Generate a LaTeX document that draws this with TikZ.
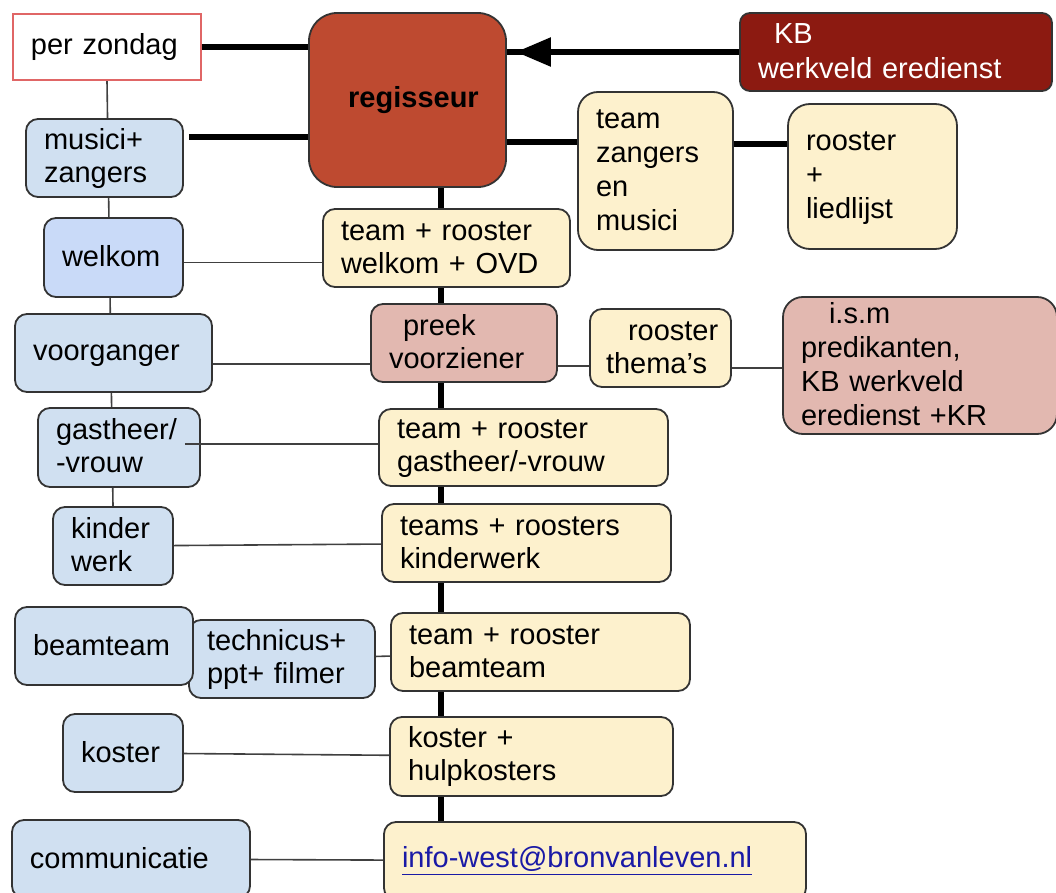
\documentclass[tikz,border=0pt]{standalone}
\usepackage{fontspec}
\setmainfont{Liberation Sans}
\usetikzlibrary{positioning,arrows.meta,backgrounds}

\definecolor{berry}{RGB}{190,74,48}
\definecolor{darkberry}{RGB}{140,26,17}
\definecolor{paleblue}{RGB}{208,224,241}
\definecolor{cornflower}{RGB}{201,218,248}
\definecolor{paleyellow}{RGB}{253,241,205}
\definecolor{palered}{RGB}{226,184,176}
\definecolor{zondagred}{RGB}{224,102,102}
\definecolor{linkblue}{RGB}{26,26,166}
\newcommand{\boxstrut}{\rule[-2pt]{0pt}{13pt}}

\begin{document}
\begin{tikzpicture}[on grid, node distance=40pt and 100pt,
	box/.style={draw=black!80, line width=0.9pt, rounded corners=6pt, inner xsep=9pt, inner ysep=0pt, align=left, minimum height=39pt, font=\fontsize{14.5pt}{16.5pt}\selectfont, execute at begin node=\boxstrut, execute at end node=\boxstrut},
	role/.style={box, fill=paleblue},
	team/.style={box, fill=paleyellow},
	preek/.style={box, fill=palered},
	heavy/.style={line width=2.7pt},
	link/.style={line width=0.8pt, black!75}]
	\useasboundingbox (0,0) rectangle (528pt,-446.5pt);

	% top row
	\node[box, fill=berry, rounded corners=14pt, minimum width=98.5pt, minimum height=87pt, align=center, font=\fontsize{14.5pt}{16.5pt}\selectfont\bfseries] (regie) at (203.75pt,-50pt) {\hspace*{6pt}regisseur};
	\node[box, fill=white, draw=zondagred, line width=0.6pt, sharp corners, minimum height=33pt, text width=76pt] (zondag) [above left=26.5pt and 150.25pt of regie] {per zondag};
	\node[box, fill=darkberry, text=white, rounded corners=5pt, text width=138pt] (kb) [above right=24pt and 244.25pt of regie] {\hspace*{8pt}KB\\[1pt]werkveld eredienst};
	\node[team, rounded corners=10pt, minimum height=79pt, text width=59.5pt, font=\fontsize{14.5pt}{17pt}\selectfont] (zangteam) [below right=35.5pt and 124pt of regie] {team\\zangers\\en\\musici};
	\node[team, rounded corners=11pt, minimum height=72.5pt, text width=66.5pt, font=\fontsize{14.5pt}{17pt}\selectfont] (liedlijst) [below right=2.75pt and 108.5pt of zangteam] {rooster\\+\\liedlijst};

	% left column
	\node[role, text width=60.5pt] (musici) [below left=55.5pt and 1.25pt of zondag] {musici+\\zangers};
	\node[role, fill=cornflower, minimum height=39.5pt, text width=51.5pt] (welkom) [below right=49.75pt and 4.5pt of musici] {welkom};
	\node[role, text width=80.5pt] (voorganger) [below=47.75pt of welkom] {voorganger};
	\node[role, minimum height=39.5pt, text width=63pt] (gastheer) [below right=47.25pt and 2.75pt of voorganger] {gastheer/\\-vrouw};
	\node[role, text width=42pt] (kinder) [below left=49.25pt and 3pt of gastheer] {kinder\\werk};
	\node[role, text width=75pt] (technicus) [below right=56.5pt and 84.5pt of kinder] {technicus+\\ppt+ filmer};
	\node[role, text width=71pt] (beamteam) [above left=6.5pt and 89pt of technicus] {beamteam};
	\node[role, text width=42pt] (koster) [below right=53.5pt and 9.5pt of beamteam] {koster};
	\node[role, text width=101pt] (communicatie) [below right=53pt and 4pt of koster] {communicatie};

	% middle column
	\node[team, text width=105.5pt] (welkomteam) [below right=74pt and 19.5pt of regie] {team + rooster\\welkom + OVD};
	\node[preek, text width=75pt] (voorziener) [below right=47.5pt and 8.75pt of welkomteam] {\hspace*{7pt}preek\\voorziener};
	\node[team, inner xsep=8pt, text width=54.5pt] (themas) [below right=2.5pt and 98.25pt of voorziener] {\hspace*{11pt}rooster\\thema’s};
	\node[preek, rounded corners=10pt, minimum height=68.5pt, text width=119pt, font=\fontsize{14.5pt}{17pt}\selectfont] (ism) [below right=8.75pt and 129.75pt of themas] {\hspace*{14pt}i.s.m\\predikanten,\\KB werkveld\\eredienst +KR};
	\node[team, minimum height=38.5pt, text width=126.5pt] (gastteam) [below right=52.25pt and 29.75pt of voorziener] {team + rooster\\gastheer/-vrouw};
	\node[team, text width=126.5pt] (kinderteam) [below right=47.75pt and 1.5pt of gastteam] {teams + roosters\\kinderwerk};
	\node[team, text width=131.5pt] (beamrooster) [below right=54.5pt and 7pt of kinderteam] {team + rooster\\beamteam};
	\node[team, minimum height=39.5pt, text width=123.5pt] (hulpkosters) [below left=52.25pt and 4.5pt of beamrooster] {koster +\\hulpkosters};
	\node[team, text width=193pt] (mail) [below right=52.25pt and 31.75pt of hulpkosters] {\textcolor{linkblue}{\underline{info-west@bronvanleven.nl}}};

	% spine and left chain
	\coordinate (spine) at ([xshift=16.75pt]regie.south);
	\begin{scope}[on background layer]
		\draw[heavy] (spine) -- (spine |- mail.north);
		\draw[link] (zondag.south) -- (kinder.north);
	\end{scope}

	\path (zondag.east) edge[heavy] (zondag.east -| regie.west);
	\path ([shift={(2.5pt,10.5pt)}]musici.east) edge[heavy] ([yshift=10.5pt]musici.east -| regie.west);
	\path ([yshift=-21pt]regie.east) edge[heavy] ([yshift=-21pt]regie.east -| zangteam.west);
	\path ([yshift=13.5pt]zangteam.east) edge[heavy] ([yshift=13.5pt]zangteam.east -| liedlijst.west);
	\path (kb.west) edge[heavy] (kb.west -| regie.east);
	\path (kb.west) edge[heavy, -{Triangle[length=17.5pt,width=14pt]}, shorten >=4.5pt] (kb.west -| regie.east);

	\path ([yshift=-2.5pt]welkom.east) edge[link] ([yshift=-2.5pt]welkom.east -| welkomteam.west);
	\path ([yshift=-5.5pt]voorganger.east) edge[link] ([yshift=-5.5pt]voorganger.east -| voorziener.west);
	\path ([yshift=-11.5pt]voorziener.east) edge[link] ([yshift=-11.5pt]voorziener.east -| themas.west);
	\path ([yshift=-10pt]themas.east) edge[link] ([yshift=-10pt]themas.east -| ism.west);
	\path ([shift={(-8pt,1.75pt)}]gastheer.east) edge[link] ([yshift=1.75pt]gastheer.east -| gastteam.west);
	\path (kinder) edge[link] (kinderteam);
	\path (technicus) edge[link] (beamrooster);
	\path (koster) edge[link] (hulpkosters);
	\path (communicatie) edge[link] (mail);
\end{tikzpicture}
\end{document}
